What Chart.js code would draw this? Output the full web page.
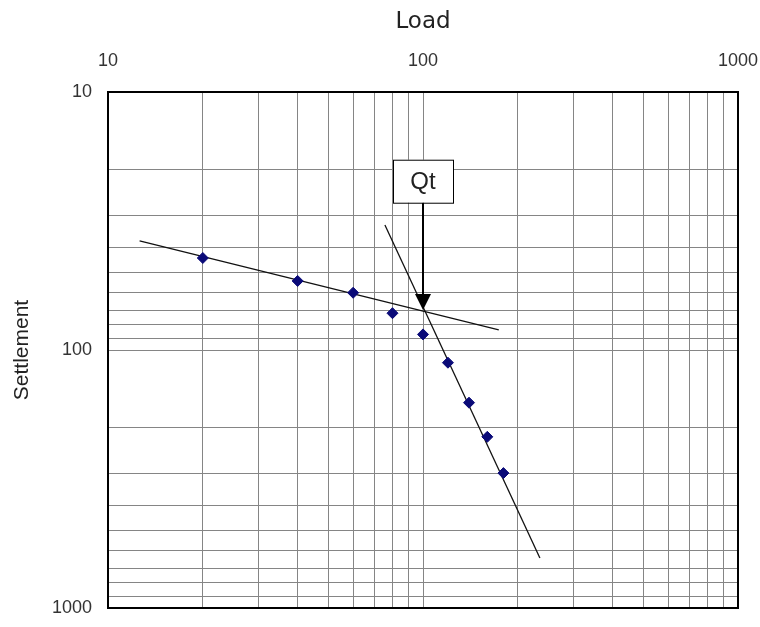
<!DOCTYPE html>
<html>
<head>
<meta charset="utf-8">
<script src="https://cdn.jsdelivr.net/npm/chart.js@4/dist/chart.umd.min.js"></script>
<style>
  body { margin: 0; background: #fff; }
</style>
</head>
<body>
<canvas id="chart" width="760" height="627"></canvas>
<script>
// measured points
const loadValues = [20, 40, 60, 80, 100, 120, 140, 160, 180];
const settlementValues = [44, 54, 60, 72, 87, 112, 160, 217, 300];

// the two fitted lines (end points)
const line1Load = [12.6, 174];
const line1Settlement = [37.8, 83.6];
const line2Load = [75.7, 235];
const line2Settlement = [32.8, 640];

// Qt mark
const qtLoad = 100;
const qtSettlement = 70;
const qtBoxTopSettlement = 18.3;

const gridTicks = [10, 20, 30, 40, 50, 60, 70, 80, 90, 100, 200, 300, 400, 500, 600, 700, 800, 900, 1000];
const tickLabels = [10, 100, 1000];

const toXY = (xs, ys) => xs.map((v, i) => ({ x: v, y: ys[i] }));

const qtPlugin = {
  id: 'qt',
  afterDatasetsDraw(chart) {
    const ctx = chart.ctx;
    const xs = chart.scales.x, ys = chart.scales.y;
    const px = xs.getPixelForValue(qtLoad);
    const py = ys.getPixelForValue(qtSettlement);
    const top = ys.getPixelForValue(qtBoxTopSettlement);
    const w = 60, h = 43;
    ctx.save();
    // shaft
    ctx.strokeStyle = '#000';
    ctx.lineWidth = 2;
    ctx.beginPath();
    ctx.moveTo(px, top + h);
    ctx.lineTo(px, py - 14);
    ctx.stroke();
    // head
    ctx.fillStyle = '#000';
    ctx.beginPath();
    ctx.moveTo(px - 8, py - 16);
    ctx.lineTo(px + 8, py - 16);
    ctx.lineTo(px, py);
    ctx.closePath();
    ctx.fill();
    // box
    ctx.fillStyle = '#fff';
    ctx.fillRect(px - w / 2, top, w, h);
    ctx.lineWidth = 1;
    ctx.strokeRect(px - w / 2 + 0.5, top + 0.5, w, h);
    ctx.fillStyle = '#222';
    ctx.font = '24px "Liberation Sans", Arial, sans-serif';
    ctx.textAlign = 'center';
    ctx.textBaseline = 'middle';
    ctx.fillText('Qt', px, top + h / 2 + 1);
    ctx.restore();
  },
  afterDraw(chart) {
    // frame round the plot area
    const a = chart.chartArea;
    const ctx = chart.ctx;
    ctx.save();
    ctx.strokeStyle = '#000';
    ctx.lineWidth = 2;
    ctx.strokeRect(a.left, a.top, a.right - a.left, a.bottom - a.top);
    ctx.restore();
  }
};

const logTicks = scale => {
  scale.ticks = gridTicks.map(v => ({ value: v }));
};
const tickText = v => tickLabels.includes(v) ? String(v) : '';

new Chart(document.getElementById('chart'), {
  type: 'scatter',
  data: {
    datasets: [
      {
        data: toXY(loadValues, settlementValues),
        pointStyle: 'rectRot',
        pointRadius: 5.5,
        pointHoverRadius: 5.5,
        backgroundColor: '#0a0a78',
        borderColor: '#0a0a78',
        order: 0
      },
      {
        data: toXY(line1Load, line1Settlement),
        showLine: true,
        pointRadius: 0,
        borderColor: '#111',
        borderWidth: 1.3,
        order: 1
      },
      {
        data: toXY(line2Load, line2Settlement),
        showLine: true,
        pointRadius: 0,
        borderColor: '#111',
        borderWidth: 1.3,
        order: 1
      }
    ]
  },
  options: {
    responsive: false,
    animation: false,
    events: [],
    layout: { padding: 0 },
    plugins: {
      legend: { display: false },
      tooltip: { enabled: false }
    },
    scales: {
      x: {
        type: 'logarithmic',
        position: 'top',
        min: 10,
        max: 1000,
        afterBuildTicks: logTicks,
        afterFit: s => {
          s.height = 92;
          s.paddingLeft = 0;
          s.paddingRight = 22;
        },
        grid: { color: '#858585', lineWidth: 1, drawTicks: false },
        border: { display: true, color: '#000', width: 2 },
        ticks: {
          autoSkip: false,
          maxRotation: 0,
          padding: 20,
          color: '#333',
          font: { family: '"Liberation Sans", Arial, sans-serif', size: 18 },
          callback: tickText
        },
        title: {
          display: true,
          text: 'Load',
          color: '#222',
          padding: { top: 8, bottom: 0 },
          font: { family: '"DejaVu Sans", sans-serif', size: 23 }
        }
      },
      y: {
        type: 'logarithmic',
        reverse: true,
        min: 10,
        max: 1000,
        afterBuildTicks: logTicks,
        afterFit: s => {
          s.width = 108;
          s.paddingTop = 0;
          s.paddingBottom = 19;
        },
        grid: { color: '#858585', lineWidth: 1, drawTicks: false },
        border: { display: true, color: '#000', width: 2 },
        ticks: {
          autoSkip: false,
          padding: 16,
          color: '#333',
          font: { family: '"Liberation Sans", Arial, sans-serif', size: 18 },
          callback: tickText
        },
        title: {
          display: true,
          text: 'Settlement',
          color: '#222',
          padding: { top: 10, bottom: 0 },
          font: { family: '"Liberation Sans", Arial, sans-serif', size: 21 }
        }
      }
    }
  },
  plugins: [qtPlugin]
});
</script>
</body>
</html>
